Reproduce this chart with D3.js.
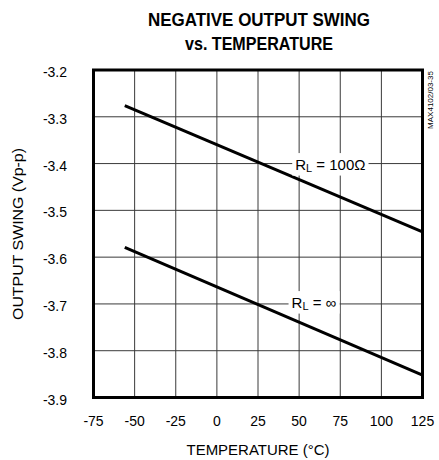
<!DOCTYPE html>
<html><head><meta charset="utf-8">
<script src="https://cdn.jsdelivr.net/npm/d3@7"></script>
<style>
body{margin:0;background:#fff;}
svg text{font-family:"Liberation Sans",Arial,Helvetica,sans-serif;fill:#000;}
</style></head>
<body><svg id="chart" width="439" height="460"></svg>
<script>
// ---- data ----
const xTicks = [-75,-50,-25,0,25,50,75,100,125];
const yTicks = [-3.2,-3.3,-3.4,-3.5,-3.6,-3.7,-3.8,-3.9];
const xTickLabels = ["-75","-50","-25","0","25","50","75","100","125"];
const yTickLabels = ["-3.2","-3.3","-3.4","-3.5","-3.6","-3.7","-3.8","-3.9"];
const temperature = [-56, 125];
const swing100 = [-3.276, -3.546];
const swingInf = [-3.579, -3.852];
const seriesNames = ["100Ω", "∞"];
const labelPos = [[69, -3.4], [59, -3.695]];
const title = ["NEGATIVE OUTPUT SWING", "vs. TEMPERATURE"];
const xTitle = "TEMPERATURE (°C)";
const yTitle = "OUTPUT SWING (Vp-p)";
const sideNote = "MAX4102/03-35";

const svg = d3.select("#chart");
const x = d3.scaleLinear().domain([-75,125]).range([93.5,422.5]);
const y = d3.scaleLinear().domain([-3.2,-3.9]).range([70,397.5]);

// grid
const g = svg.append("g");
g.selectAll("line.vx").data(xTicks.slice(1,-1)).join("line")
  .attr("x1",d=>x(d)).attr("x2",d=>x(d)).attr("y1",y(-3.2)).attr("y2",y(-3.9))
  .attr("stroke","#3a3a3a").attr("stroke-width",1);
g.selectAll("line.hy").data(yTicks.slice(1,-1)).join("line")
  .attr("y1",d=>y(d)).attr("y2",d=>y(d)).attr("x1",x(-75)).attr("x2",x(125))
  .attr("stroke","#3a3a3a").attr("stroke-width",1);

// series lines
const line = d3.line().x(d=>x(d[0])).y(d=>y(d[1]));
[swing100, swingInf].forEach(s=>{
  svg.append("path").datum(temperature.map((t,i)=>[t,s[i]]))
    .attr("d",line).attr("fill","none").attr("stroke","#000").attr("stroke-width",3);
});

// labels with white background
seriesNames.forEach((n,i)=>{
  const lg = svg.append("g");
  const t = lg.append("text").attr("x",x(labelPos[i][0])).attr("y",y(labelPos[i][1]))
    .attr("text-anchor","middle").attr("dominant-baseline","central").attr("font-size",15);
  t.append("tspan").text("R");
  t.append("tspan").text("L").attr("font-size",11).attr("dy",4);
  t.append("tspan").text(" = " + n).attr("dy",-4);
  const b = t.node().getBBox();
  lg.insert("rect","text").attr("x",b.x-3).attr("y",b.y-2).attr("width",b.width+6).attr("height",b.height+4).attr("fill","#fff");
});

// frame
svg.append("rect").attr("x",x(-75)).attr("y",y(-3.2)).attr("width",x(125)-x(-75)).attr("height",y(-3.9)-y(-3.2))
  .attr("fill","none").attr("stroke","#000").attr("stroke-width",3);

// tick labels
svg.selectAll("text.yt").data(yTicks).join("text")
  .attr("x",67).attr("y",d=>y(d)+2).attr("dy","0.36em").attr("text-anchor","end").attr("font-size",14)
  .text((d,i)=>yTickLabels[i]);
svg.selectAll("text.xt").data(xTicks).join("text")
  .attr("x",d=>x(d)).attr("y",426).attr("text-anchor","middle").attr("font-size",14)
  .text((d,i)=>xTickLabels[i]);

// titles
svg.append("text").attr("x",259).attr("y",26).attr("text-anchor","middle").attr("font-size",18)
  .attr("font-weight","bold").attr("textLength",222).attr("lengthAdjust","spacingAndGlyphs").text(title[0]);
svg.append("text").attr("x",259).attr("y",50).attr("text-anchor","middle").attr("font-size",18)
  .attr("font-weight","bold").attr("textLength",148).attr("lengthAdjust","spacingAndGlyphs").text(title[1]);
svg.append("text").attr("x",258).attr("y",455).attr("text-anchor","middle").attr("font-size",15)
  .attr("textLength",143).attr("lengthAdjust","spacingAndGlyphs").text(xTitle);
svg.append("text").attr("transform","translate(23,234) rotate(-90)").attr("text-anchor","middle").attr("font-size",15)
  .attr("textLength",172).attr("lengthAdjust","spacingAndGlyphs").text(yTitle);
svg.append("text").attr("transform","translate(433,100) rotate(-90)").attr("text-anchor","middle").attr("font-size",8)
  .text(sideNote);
</script></body></html>
